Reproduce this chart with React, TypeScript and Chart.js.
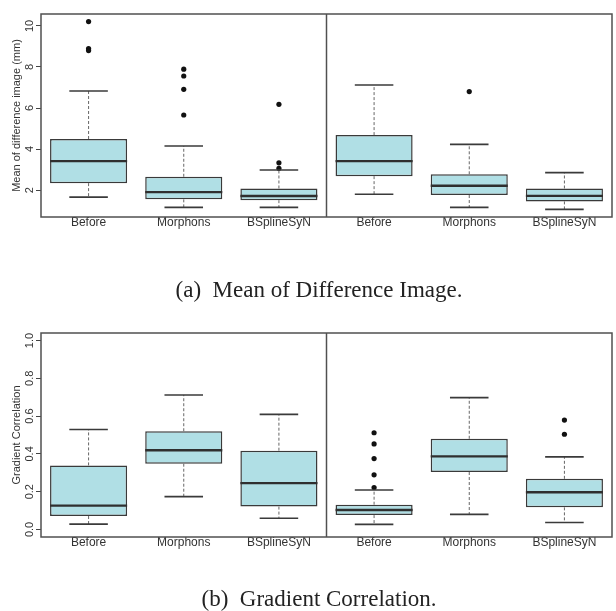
import React, { useEffect, useRef } from "react";
import { Chart, registerables } from "chart.js";

Chart.register(...registerables);

const groups = ["Before", "Morphons", "BSplineSyN"];

// (a) Mean of difference image (mm) — left block
const diffLeftLow = [1.66, 1.16, 1.16];
const diffLeftQ1 = [2.34, 1.55, 1.51];
const diffLeftMedian = [3.41, 1.9, 1.71];
const diffLeftQ3 = [4.49, 2.65, 2.08];
const diffLeftHigh = [6.83, 4.15, 2.98];
const diffLeftOutliers = [[10.21, 8.9, 8.8], [7.89, 7.56, 6.91, 5.66], [6.18, 3.33, 3.06]];
// (a) right block
const diffRightLow = [1.8, 1.16, 1.06];
const diffRightQ1 = [2.68, 1.76, 1.45];
const diffRightMedian = [3.41, 2.21, 1.72];
const diffRightQ3 = [4.68, 2.77, 2.08];
const diffRightHigh = [7.12, 4.23, 2.85];
const diffRightOutliers = [[], [6.8], []];
const diffTicks = [2, 4, 6, 8, 10];
const diffRange = [0.69, 10.58];

// (b) Gradient correlation — left block
const gradLeftLow = [0.028, 0.174, 0.059];
const gradLeftQ1 = [0.071, 0.348, 0.121];
const gradLeftMedian = [0.126, 0.419, 0.245];
const gradLeftQ3 = [0.339, 0.52, 0.417];
const gradLeftHigh = [0.529, 0.712, 0.609];
const gradLeftOutliers = [[], [], []];
// (b) right block
const gradRightLow = [0.027, 0.08, 0.037];
const gradRightQ1 = [0.076, 0.304, 0.117];
const gradRightMedian = [0.103, 0.387, 0.197];
const gradRightQ3 = [0.131, 0.48, 0.268];
const gradRightHigh = [0.209, 0.698, 0.384];
const gradRightOutliers = [[0.512, 0.453, 0.375, 0.289, 0.222], [], [0.579, 0.504]];
const gradTicks = [0, 0.2, 0.4, 0.6, 0.8, 1.0];
const gradRange = [-0.04, 1.04];

type Block = {
  low: number[];
  q1: number[];
  med: number[];
  q3: number[];
  high: number[];
  outliers: number[][];
};

type PanelProps = {
  blocks: Block[];
  yTicks: number[];
  yRange: number[];
  decimals: number;
  yTitle: string;
  caption: string;
  top: number;
  height: number;
  padTop: number;
  tickPad: number;
  capPadTop: number;
  capPadBottom: number;
};

const SANS = '"Liberation Sans", Arial, Helvetica, sans-serif';
const SERIF = '"Liberation Serif", "Times New Roman", Times, serif';

function BoxPanel(p: PanelProps) {
  const ref = useRef<HTMLCanvasElement>(null);
  useEffect(() => {
    if (!ref.current) return;
    const boxData: any[] = [];
    const stats: any[] = [];
    const outData: any[] = [];
    const xLabels: string[] = [];
    const xPos: number[] = [];
    p.blocks.forEach((b, bi) => {
      groups.forEach((g, gi) => {
        const x = bi * groups.length + gi + 0.5;
        xPos.push(x);
        xLabels.push(g);
        boxData.push({ x, y: [b.q1[gi], b.q3[gi]] });
        stats.push({ low: b.low[gi], med: b.med[gi], high: b.high[gi], q1: b.q1[gi], q3: b.q3[gi] });
        b.outliers[gi].forEach((v) => outData.push({ x, y: v }));
      });
    });
    const nCols = p.blocks.length * groups.length;

    const boxExtras = {
      id: "boxExtras",
      afterDatasetsDraw(chart: any) {
        const meta = chart.getDatasetMeta(0);
        const ys = chart.scales.y;
        const ctx = chart.ctx;
        const line = (x1: number, y1: number, x2: number, y2: number) => {
          ctx.beginPath();
          ctx.moveTo(x1, y1);
          ctx.lineTo(x2, y2);
          ctx.stroke();
        };
        ctx.save();
        meta.data.forEach((el: any, k: number) => {
          const s = stats[k];
          const cx = el.x;
          const w = el.width;
          const py = (v: number) => ys.getPixelForValue(v);
          ctx.strokeStyle = "#666";
          ctx.lineWidth = 1;
          ctx.setLineDash([3, 2]);
          line(cx, py(s.q3), cx, py(s.high));
          line(cx, py(s.q1), cx, py(s.low));
          ctx.setLineDash([]);
          ctx.strokeStyle = "#3a3a3a";
          ctx.lineWidth = 1.6;
          line(cx - w / 4, py(s.high), cx + w / 4, py(s.high));
          line(cx - w / 4, py(s.low), cx + w / 4, py(s.low));
          ctx.lineWidth = 2.4;
          ctx.strokeStyle = "#2f2f2f";
          line(cx - w / 2, py(s.med), cx + w / 2, py(s.med));
        });
        ctx.restore();
      },
    };

    const frame = {
      id: "frame",
      afterDraw(chart: any) {
        const a = chart.chartArea;
        const ctx = chart.ctx;
        const xs = chart.scales.x;
        ctx.save();
        ctx.strokeStyle = "#505050";
        ctx.lineWidth = 1.5;
        ctx.strokeRect(a.left, a.top, a.right - a.left, a.bottom - a.top);
        for (let b = 1; b < p.blocks.length; b++) {
          const dx = xs.getPixelForValue(b * groups.length);
          ctx.beginPath();
          ctx.moveTo(dx, a.top);
          ctx.lineTo(dx, a.bottom);
          ctx.stroke();
        }
        ctx.restore();
      },
    };

    const chart = new Chart(ref.current, {
      type: "bar",
      data: {
        datasets: [
          {
            type: "bar",
            data: boxData,
            backgroundColor: "#b0dfe5",
            borderColor: "#3a3a3a",
            borderWidth: 1.5,
            borderSkipped: false,
            categoryPercentage: 1,
            barPercentage: 0.81,
          } as any,
          {
            type: "scatter",
            data: outData,
            backgroundColor: "#111",
            borderWidth: 0,
            pointRadius: 2.6,
          } as any,
        ],
      },
      options: {
        animation: false,
        responsive: false,
        devicePixelRatio: 1,
        events: [],
        layout: { padding: { top: p.padTop, bottom: 0, left: 24, right: 2 } },
        plugins: {
          legend: { display: false },
          tooltip: { enabled: false },
          title: {
            display: true,
            position: "bottom",
            text: p.caption,
            color: "#222",
            font: { family: SERIF, size: 23, weight: "normal", lineHeight: 1 },
            padding: { top: p.capPadTop, bottom: p.capPadBottom },
          },
        },
        scales: {
          x: {
            type: "linear",
            min: 0,
            max: nCols,
            offset: false,
            grid: { display: false, drawTicks: false },
            border: { display: false },
            afterBuildTicks: (s: any) => {
              s.ticks = xPos.map((v) => ({ value: v }));
            },
            afterFit: (s: any) => {
              s.height = 14;
            },
            ticks: {
              autoSkip: false,
              minRotation: 0,
              maxRotation: 0,
              padding: -2,
              color: "#333",
              font: { family: SANS, size: 12 },
              callback: (_v: any, i: number) => xLabels[i],
            },
          },
          y: {
            type: "linear",
            min: p.yRange[0],
            max: p.yRange[1],
            grid: { display: true, drawOnChartArea: false, drawTicks: true, tickLength: 5, color: "#444", lineWidth: 1 },
            border: { display: false },
            afterBuildTicks: (s: any) => {
              s.ticks = p.yTicks.map((v) => ({ value: v }));
            },
            afterFit: (s: any) => {
              s.width = 17;
            },
            ticks: {
              minRotation: 90,
              maxRotation: 90,
              crossAlign: "center",
              padding: p.tickPad,
              color: "#333",
              font: { family: SANS, size: 11 },
              callback: (v: any) => Number(v).toFixed(p.decimals),
            },
            title: {
              display: true,
              text: p.yTitle,
              color: "#333",
              font: { family: SANS, size: 11 },
              padding: { top: -13.6, bottom: 0 },
            },
          },
        },
      } as any,
      plugins: [boxExtras, frame],
    });
    return () => chart.destroy();
  }, []);
  return (
    <canvas
      ref={ref}
      width={616}
      height={p.height}
      style={{ position: "absolute", left: 0, top: p.top, width: 616, height: p.height }}
    />
  );
}

export default function App() {
  const diffBlocks: Block[] = [
    { low: diffLeftLow, q1: diffLeftQ1, med: diffLeftMedian, q3: diffLeftQ3, high: diffLeftHigh, outliers: diffLeftOutliers },
    { low: diffRightLow, q1: diffRightQ1, med: diffRightMedian, q3: diffRightQ3, high: diffRightHigh, outliers: diffRightOutliers },
  ];
  const gradBlocks: Block[] = [
    { low: gradLeftLow, q1: gradLeftQ1, med: gradLeftMedian, q3: gradLeftQ3, high: gradLeftHigh, outliers: gradLeftOutliers },
    { low: gradRightLow, q1: gradRightQ1, med: gradRightMedian, q3: gradRightQ3, high: gradRightHigh, outliers: gradRightOutliers },
  ];
  return (
    <div style={{ position: "absolute", left: 0, top: 0, width: 616, height: 611, background: "#fff", overflow: "hidden" }}>
      <BoxPanel
        blocks={diffBlocks}
        yTicks={diffTicks}
        yRange={diffRange}
        decimals={0}
        yTitle="Mean of difference image (mm)"
        caption="(a)  Mean of Difference Image."
        top={0}
        height={305}
        padTop={14}
        tickPad={0}
        capPadTop={48}
        capPadBottom={3}
      />
      <BoxPanel
        blocks={gradBlocks}
        yTicks={gradTicks}
        yRange={gradRange}
        decimals={1}
        yTitle="Gradient Correlation"
        caption="(b)  Gradient Correlation."
        top={308}
        height={303}
        padTop={25}
        tickPad={-1.6}
        capPadTop={37}
        capPadBottom={0}
      />
    </div>
  );
}
